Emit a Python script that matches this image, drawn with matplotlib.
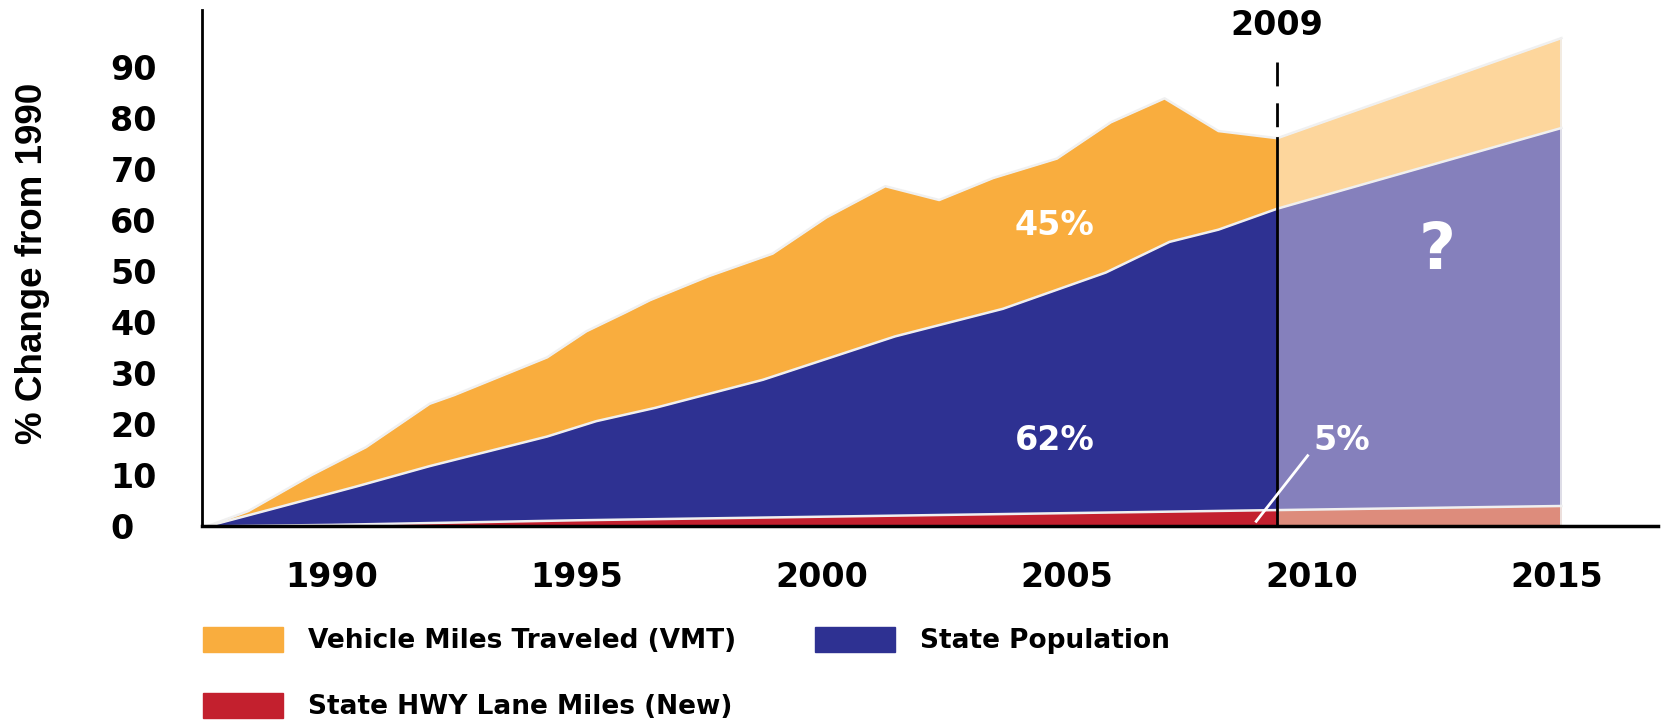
import matplotlib
matplotlib.use("Agg")
import matplotlib.pyplot as plt
import matplotlib.patches as mpatches

# ---- data (% change from 1990) ----
vmt_years = [1987.45, 1988.3, 1989.6, 1990.7, 1992.0, 1992.5, 1994.4, 1995.2, 1996.0, 1996.5,
             1997.7, 1999.0, 2000.1, 2001.3, 2002.4, 2003.5, 2004.8, 2005.9, 2007.0, 2008.1, 2009.3]
vmt = [0, 3.0, 10.1, 15.5, 24.0, 25.7, 33.1, 38.2, 41.9, 44.3,
       49.0, 53.4, 60.5, 66.6, 63.9, 68.2, 72.0, 79.1, 83.8, 77.4, 76.0]

pop_years = [1987.45, 1988.9, 1990.5, 1992.0, 1994.4, 1995.4, 1996.6, 1998.8, 2001.5,
             2003.7, 2005.8, 2007.1, 2008.1, 2009.3]
pop = [0, 3.7, 7.8, 11.8, 17.6, 20.6, 23.2, 28.7, 37.2, 42.6, 49.7, 55.7, 58.1, 62.2]

hwy_years = [1987.45, 1990.0, 1995.0, 2000.0, 2005.0, 2009.3]
hwy = [0, 0.3, 1.2, 1.9, 2.6, 3.2]

# projection 2009 -> 2015
proj_years = [2009.3, 2015.1]
vmt_proj = [76.0, 95.6]
pop_proj = [62.2, 78.0]
hwy_proj = [3.2, 4.0]

labels = ["Vehicle Miles Traveled (VMT)", "State HWY Lane Miles (New)", "State Population"]
x_ticks = [1990, 1995, 2000, 2005, 2010, 2015]
y_ticks = [0, 10, 20, 30, 40, 50, 60, 70, 80, 90]

ORANGE, NAVY, RED = "#F9AD3E", "#2E3192", "#C3202E"
ORANGE_L, NAVY_L, RED_L = "#FDD69C", "#8580BC", "#DD8C7C"
EDGE = "#F0F0F0"

fig = plt.figure(figsize=(16.65, 7.24), dpi=100)
ax = fig.add_axes([0.1213, 0.2729, 0.8745, 0.7133])

# history (solid colours)
for xs, ys, c, z in [(vmt_years, vmt, ORANGE, 1), (pop_years, pop, NAVY, 2), (hwy_years, hwy, RED, 3)]:
    ax.fill_between(xs, 0, ys, color=c, lw=0, zorder=z)
    ax.plot(xs, ys, color=EDGE, lw=1.8, zorder=z + 0.1)

# projection (faded)
for ys, c, z in [(vmt_proj, ORANGE_L, 1), (pop_proj, NAVY_L, 2), (hwy_proj, RED_L, 3)]:
    ax.fill_between(proj_years, 0, ys, color=c, lw=0, zorder=z)
    ax.plot(proj_years, ys, color=EDGE, lw=1.8, zorder=z + 0.1)
    ax.plot([proj_years[-1]] * 2, [0, ys[-1]], color=EDGE, lw=1.2, zorder=z + 0.1)

# 2009 split marker: solid through the areas, dashed above
split = vmt_years[-1]
ax.plot([split, split], [0, vmt[-1]], color="black", lw=2, zorder=5)
ax.plot([split, split], [91, vmt[-1]], color="black", lw=2, dashes=(8.6, 6.1), zorder=5)
ax.text(split, 98, "2009", ha="center", va="center", fontsize=24, fontweight="bold")

# annotations
ax.text(2004.76, 59, "45%", color="white", ha="center", va="center", fontsize=24, fontweight="bold", zorder=6)
ax.text(2004.76, 16.9, "62%", color="white", ha="center", va="center", fontsize=24, fontweight="bold", zorder=6)
ax.text(2010.62, 16.9, "5%", color="white", ha="center", va="center", fontsize=24, fontweight="bold", zorder=6)
ax.plot([2009.92, 2008.87], [13.85, 1.0], color="white", lw=2, zorder=6)
ax.text(2012.57, 53.9, "?", color="white", ha="center", va="center", fontsize=46, fontweight="bold", zorder=6)

# axes styling
ax.set_xlim(1987.355, 2017.07)
ax.set_ylim(0, 101.1)
ax.set_xticks(x_ticks)
ax.set_yticks(y_ticks)
ax.tick_params(length=0, labelsize=24)
ax.tick_params(axis="x", pad=25)
ax.tick_params(axis="y", pad=66)
plt.setp(ax.get_xticklabels(), fontweight="bold")
plt.setp(ax.get_yticklabels(), fontweight="bold", ha="left")
for s in ["top", "right"]:
    ax.spines[s].set_visible(False)
ax.spines["left"].set_linewidth(2)
ax.spines["bottom"].set_linewidth(2.5)
for s in ["left", "bottom"]:
    ax.spines[s].set_zorder(7)

fig.text(33 / 1665, 1 - 263 / 724, "% Change from 1990", rotation=90, ha="center", va="center",
         family="Liberation Sans", fontweight="bold", fontsize=26.5)

handles = [mpatches.Patch(color=c) for c in (ORANGE, RED, NAVY)]
fig.legend(handles, labels, ncol=2, loc="upper left", bbox_to_anchor=(203 / 1665, 1 - 627 / 724),
           frameon=False, borderpad=0, borderaxespad=0, prop={"weight": "bold", "size": 19},
           handlelength=3.03, handleheight=1.06, handletextpad=0.95, labelspacing=1.47,
           columnspacing=3.0)

fig.savefig("out.png", dpi=100)
